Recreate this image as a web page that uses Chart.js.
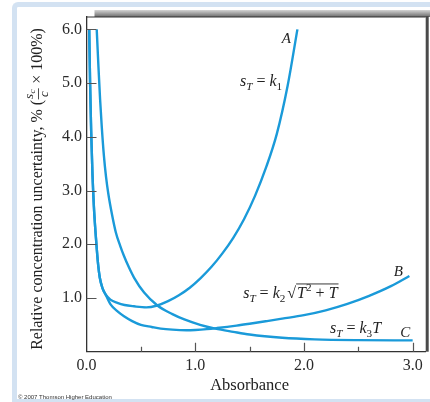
<!DOCTYPE html>
<html>
<head>
<meta charset="utf-8">
<script src="https://cdn.jsdelivr.net/npm/chart.js@4"></script>
<style>
  body { margin: 0; background: #fff; }
  #wrap { position: relative; width: 430px; height: 402px; overflow: hidden; }
  #moldura {
    position: absolute; left: 12px; top: 2px; width: 418px; height: 392px;
    border-left: 5px solid #d3e2f2; border-top: 5px solid #d3e2f2; border-bottom: 3px solid #d3e2f2;
    border-top-left-radius: 6px; box-sizing: content-box; background: #fff;
  }
  canvas { position: absolute; left: 0; top: 0; }
</style>
</head>
<body>
<div id="wrap">
  <div id="moldura"></div>
  <canvas id="grafico" width="430" height="402"></canvas>
</div>
<script>
// CURVE A: s_T = k1
const xA = [0.025, 0.033, 0.043, 0.055, 0.068, 0.082, 0.095, 0.108, 0.122, 0.146, 0.177, 0.22, 0.284, 0.35, 0.437, 0.55, 0.65, 0.75, 0.85, 0.95, 1.05, 1.15, 1.25, 1.35, 1.45, 1.55, 1.65, 1.75, 1.85, 1.94];
const yA = [6.0, 5.0, 4.1, 3.3, 2.7, 2.25, 1.9, 1.6, 1.38, 1.19, 1.06, 0.97, 0.91, 0.87, 0.845, 0.825, 0.86, 0.94, 1.05, 1.19, 1.37, 1.58, 1.83, 2.12, 2.47, 2.9, 3.42, 4.05, 4.95, 6.0];
// CURVE B: s_T = k2 sqrt(T^2 + T)
const xB = [0.025, 0.033, 0.043, 0.055, 0.068, 0.082, 0.095, 0.108, 0.122, 0.146, 0.177, 0.223, 0.28, 0.345, 0.42, 0.5, 0.6, 0.683, 0.79, 0.92, 1.0, 1.107, 1.2, 1.38, 1.5, 1.66, 1.8, 2.0, 2.2, 2.4, 2.6, 2.8, 2.97];
const yB = [6.0, 5.0, 4.1, 3.3, 2.7, 2.25, 1.9, 1.6, 1.38, 1.19, 1.06, 0.875, 0.76, 0.66, 0.57, 0.5, 0.46, 0.43, 0.41, 0.4, 0.405, 0.42, 0.44, 0.485, 0.52, 0.57, 0.615, 0.68, 0.77, 0.89, 1.04, 1.22, 1.41];
// CURVE C: s_T = k3 T
const xC = [0.094, 0.11, 0.125, 0.14, 0.16, 0.18, 0.2, 0.235, 0.27, 0.31, 0.345, 0.39, 0.437, 0.53, 0.652, 0.79, 0.9, 1.045, 1.185, 1.35, 1.5, 1.8, 2.1, 2.5, 3.0];
const yC = [6.0, 5.3, 4.7, 4.2, 3.65, 3.25, 2.95, 2.55, 2.22, 1.97, 1.78, 1.57, 1.38, 1.1, 0.86, 0.7, 0.6, 0.5, 0.43, 0.37, 0.32, 0.26, 0.23, 0.215, 0.21];

// ticks
const yTicks = [1, 2, 3, 4, 5, 6];
const xTicks = [0, 1, 2, 3];
const xMinor = [0.5, 1.5, 2.5];

const azul = '#1a9ad9';
const serif = '"Liberation Serif", "Times New Roman", serif';

const pontos = (xs, ys) => xs.map((x, i) => ({x: x, y: ys[i]}));

// draws a run of math text (italic, sub, sup, overline)
function desenharMath(ctx, runs, x, y, size, align) {
  let w = 0;
  const partes = runs.map(r => {
    const fs = (r.sub || r.sup) ? size * 0.7 : size;
    const font = (r.it ? 'italic ' : '') + fs + 'px ' + serif;
    ctx.font = font;
    const largura = ctx.measureText(r.t).width;
    const p = {r: r, font: font, largura: largura, x: w};
    w += largura + (r.gap || 0);
    return p;
  });
  const x0 = align === 'right' ? x - w : (align === 'center' ? x - w / 2 : x);
  let oIni = null, oFim = null;
  partes.forEach(p => {
    ctx.font = p.font;
    const dy = p.r.sub ? size * 0.28 : (p.r.sup ? -size * 0.4 : 0);
    ctx.fillText(p.r.t, x0 + p.x, y + dy);
    if (p.r.over) {
      if (oIni === null) oIni = x0 + p.x;
      oFim = x0 + p.x + p.largura;
    }
  });
  if (oIni !== null) {
    ctx.beginPath();
    ctx.lineWidth = 0.9;
    ctx.moveTo(oIni - 1, y - size * 0.86);
    ctx.lineTo(oFim + 1, y - size * 0.86);
    ctx.stroke();
  }
}

const moldura = {
  id: 'moldura',
  beforeDraw(chart) {
    const ctx = chart.ctx, a = chart.chartArea;
    ctx.save();
    const g = ctx.createLinearGradient(0, a.top - 7, 0, a.top);
    g.addColorStop(0, '#d4d4d4');
    g.addColorStop(1, '#6a6a6a');
    ctx.fillStyle = g;
    ctx.fillRect(a.left + 8, a.top - 7, 430 - a.left - 8, 7);
    ctx.fillStyle = '#4a4a4a';
    ctx.fillRect(a.right, a.top - 1, 3, a.bottom - a.top + 1);
    ctx.restore();
  },
  afterDraw(chart) {
    const ctx = chart.ctx, a = chart.chartArea;
    const sx = chart.scales.x, sy = chart.scales.y;
    ctx.save();
    // top line of the frame
    ctx.strokeStyle = '#333';
    ctx.lineWidth = 1.2;
    ctx.beginPath();
    ctx.moveTo(a.left, a.top);
    ctx.lineTo(a.right, a.top);
    ctx.stroke();

    // inner ticks
    ctx.strokeStyle = '#555';
    ctx.lineWidth = 1.2;
    ctx.beginPath();
    yTicks.forEach(v => {
      const py = Math.round(sy.getPixelForValue(v)) + 0.5;
      ctx.moveTo(a.left, py);
      ctx.lineTo(a.left + 10, py);
    });
    xTicks.slice(1).forEach(v => {
      const px = Math.round(sx.getPixelForValue(v)) + 0.5;
      ctx.moveTo(px, a.bottom);
      ctx.lineTo(px, a.bottom - 9);
    });
    xMinor.forEach(v => {
      const px = Math.round(sx.getPixelForValue(v)) + 0.5;
      ctx.moveTo(px, a.bottom);
      ctx.lineTo(px, a.bottom - 5);
    });
    ctx.stroke();

    // curve labels
    ctx.fillStyle = '#222';
    ctx.strokeStyle = '#222';
    ctx.textBaseline = 'alphabetic';
    const px = v => sx.getPixelForValue(v), py = v => sy.getPixelForValue(v);
    desenharMath(ctx, [{t: 'A', it: true}], px(1.837), py(5.745), 15, 'center');
    desenharMath(ctx, [{t: 'B', it: true}], px(2.868), py(1.414), 15, 'center');
    desenharMath(ctx, [{t: 'C', it: true}], px(2.933), py(0.281), 15, 'center');
    desenharMath(ctx, [{t: 's', it: true}, {t: 'T', it: true, sub: true}, {t: ' = '}, {t: 'k', it: true}, {t: '1', sub: true}],
      px(1.80), py(4.946), 16, 'right');
    desenharMath(ctx, [{t: 's', it: true}, {t: 'T', it: true, sub: true}, {t: ' = '}, {t: 'k', it: true}, {t: '2', sub: true, gap: 2},
      {t: '\u221A', gap: 1}, {t: 'T', it: true, over: true}, {t: '2', sup: true, over: true}, {t: ' + ', over: true}, {t: 'T', it: true, over: true}],
      px(1.441), py(1.005), 16, 'left');
    desenharMath(ctx, [{t: 's', it: true}, {t: 'T', it: true, sub: true}, {t: ' = '}, {t: 'k', it: true}, {t: '3', sub: true}, {t: 'T', it: true}],
      px(2.24), py(0.355), 16, 'left');

    // x title
    ctx.font = '16.5px ' + serif;
    ctx.textAlign = 'center';
    ctx.fillText('Absorbance', px(1.5), 390);

    // y title with fraction, rotated
    ctx.translate(38, 189);
    ctx.rotate(-Math.PI / 2);
    ctx.textAlign = 'left';
    ctx.textBaseline = 'middle';
    const f = '16px ' + serif;
    const t1 = 'Relative concentration uncertainty, % (';
    const t2 = ' \u00D7 100%)';
    ctx.font = f;
    const w1 = ctx.measureText(t1).width, w2 = ctx.measureText(t2).width;
    ctx.font = 'italic 13px ' + serif;
    const wFrac = ctx.measureText('s').width + 7;
    const x0 = -(w1 + wFrac + w2) / 2;
    ctx.font = f;
    ctx.fillText(t1, x0, 0);
    ctx.fillText(t2, x0 + w1 + wFrac, 0);
    ctx.textBaseline = 'alphabetic';
    ctx.font = 'italic 13px ' + serif;
    ctx.fillText('s', x0 + w1 + 1, -5);
    ctx.font = 'italic 9px ' + serif;
    ctx.fillText('c', x0 + w1 + 6.5, -3);
    ctx.font = 'italic 13px ' + serif;
    ctx.fillText('c', x0 + w1 + 3, 10);
    ctx.lineWidth = 0.8;
    ctx.beginPath();
    ctx.moveTo(x0 + w1 + 0.5, 0.5);
    ctx.lineTo(x0 + w1 + wFrac - 0.5, 0.5);
    ctx.stroke();
    ctx.restore();

    // copyright
    ctx.save();
    ctx.fillStyle = '#333';
    ctx.font = '6px "Liberation Sans", Arial, sans-serif';
    ctx.fillText('\u00A9 2007 Thomson Higher Education', 18, 399);
    ctx.restore();
  }
};

const linha = (xs, ys) => ({
  data: pontos(xs, ys),
  borderColor: azul,
  borderWidth: 2.4,
  pointRadius: 0,
  fill: false,
  cubicInterpolationMode: 'monotone'
});

new Chart(document.getElementById('grafico'), {
  type: 'line',
  data: { datasets: [linha(xA, yA), linha(xB, yB), linha(xC, yC)] },
  options: {
    responsive: false,
    animation: false,
    layout: { padding: { top: 17, right: 4.3, bottom: 0, left: 0 } },
    plugins: { legend: { display: false }, tooltip: { enabled: false } },
    scales: {
      x: {
        type: 'linear',
        min: 0,
        max: 3.12,
        afterFit: s => { s.height = 50.3; },
        afterBuildTicks: s => { s.ticks = xTicks.map(v => ({value: v})); },
        grid: { display: false, drawTicks: false },
        border: { display: true, color: '#333', width: 1.3 },
        ticks: {
          padding: 4,
          color: '#2a2a2a',
          font: { family: serif, size: 16 },
          maxRotation: 0,
          callback: v => v.toFixed(1)
        }
      },
      y: {
        type: 'linear',
        min: 0,
        max: 6.23,
        afterFit: s => { s.width = 86.5; },
        afterBuildTicks: s => { s.ticks = yTicks.map(v => ({value: v})); },
        grid: { display: false, drawTicks: false },
        border: { display: true, color: '#333', width: 1.3 },
        ticks: {
          padding: 4.5,
          color: '#2a2a2a',
          font: { family: serif, size: 16 },
          callback: v => v.toFixed(1)
        }
      }
    }
  },
  plugins: [moldura]
});
</script>
</body>
</html>
